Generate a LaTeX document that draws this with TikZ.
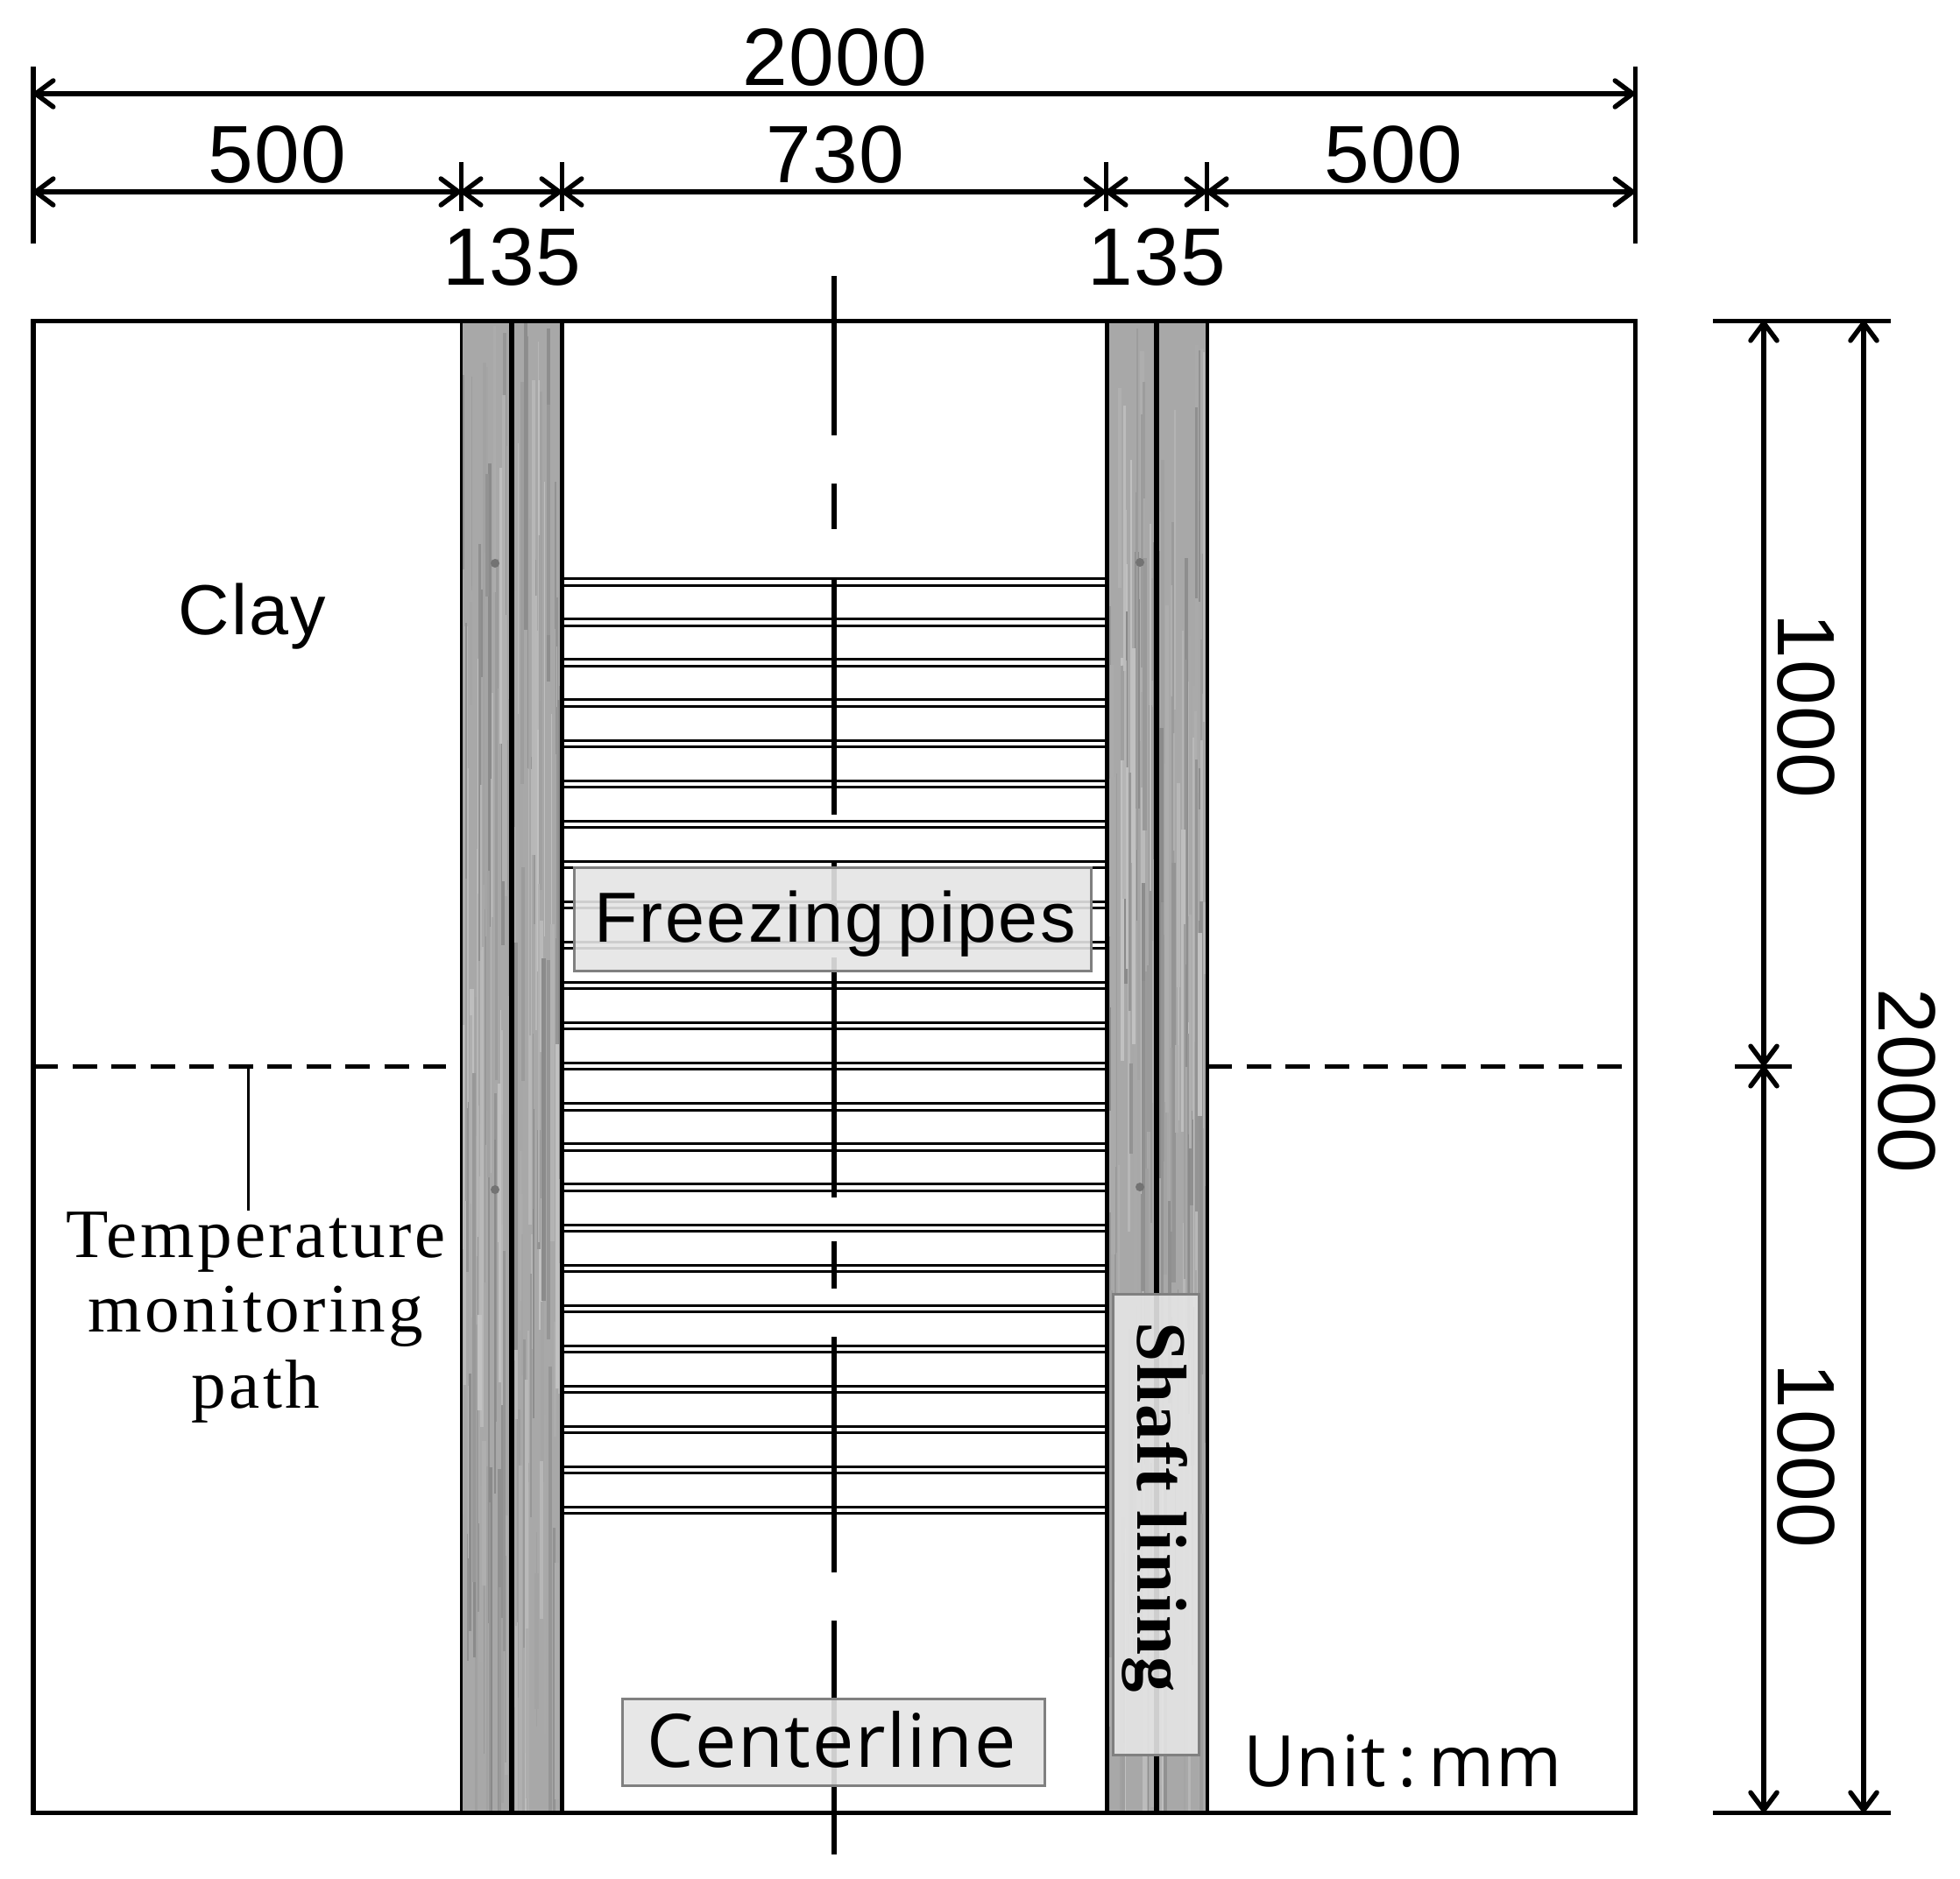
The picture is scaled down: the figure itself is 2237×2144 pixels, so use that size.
\documentclass[tikz,border=0pt]{standalone}
\usepackage{fontspec}
\setmainfont{Liberation Sans}
\newfontfamily\numfont[LetterSpace=1.5]{Liberation Sans}
\newfontfamily\serifpath[LetterSpace=4.4]{Liberation Serif}
\newfontfamily\seriflining[LetterSpace=2.5]{Liberation Serif}
\newfontfamily\sanstag[LetterSpace=3]{Liberation Sans}
\newfontfamily\opentag[LetterSpace=2]{Open Sans}
\usetikzlibrary{arrows.meta}
\tikzset{
  >={Straight Barb[length=.2cm,width=.3cm,round=false]},
  x=.01cm,
  y=-.01cm,
}
\tikzstyle{frame}=[line width=.05cm]
\tikzstyle{dimen}=[line width=.055cm,<->]
\tikzstyle{tick}=[line width=.05cm]
\tikzstyle{pipe}=[line width=.03cm]
\tikzstyle{axis}=[line width=.055cm]
\tikzstyle{path}=[line width=.05cm,dash pattern=on .28cm off .165cm]
\tikzstyle{tag}=[line width=.03cm,draw=black!50,fill=black!10,fill opacity=.9]
\tikzstyle{num}=[font=\numfont\fontsize{26.4pt}{26.4pt}\selectfont,inner sep=0pt]
\newcommand{\liningstrip}[2]{
  \begin{scope}
    \clip (#1,366) rectangle (#2,2069);
    \fill[black!34] (#1,366) rectangle (#2,2069);
    \foreach \s in {1,...,90}{
      \pgfmathsetmacro{\sx}{#1+rnd*(#2-#1)}
      \pgfmathsetmacro{\sy}{366+rnd*1500}
      \pgfmathsetmacro{\sl}{100+rnd*500}
      \pgfmathsetmacro{\sw}{1+rnd*4}
      \pgfmathsetmacro{\st}{24+rnd*22}
      \fill[black!\st] (\sx,\sy) rectangle (\sx+\sw,\sy+\sl);
    }
  \end{scope}
}

\begin{document}
\begin{tikzpicture}
    \useasboundingbox (0,0) rectangle (2237,2144);
    \pgfmathsetseed{4021}
    \fill[white] (0,0) rectangle (2237,2144);
    \liningstrip{526}{584}
    \liningstrip{584}{641}
    \liningstrip{1263}{1320}
    \liningstrip{1320}{1378}
    \foreach \kx/\ky in {565/643,565/1358,1301/642,1301/1355}
      \fill[black!55] (\kx,\ky) ellipse (5 and 5);
    \foreach \p in {0,...,23}{
      \draw[pipe] (641,660.7+46.08*\p)--(1263,660.7+46.08*\p);
      \draw[pipe] (641,668+46.08*\p)--(1263,668+46.08*\p);
    }
    \foreach \ya/\yb in {315/497,552/604,659/930,983/1038,1093/1367,1417/1471,1526/1795,1850/2117}
      \draw[axis] (952,\ya)--(952,\yb);
    \draw[frame] (38,366) rectangle (1866,2069);
    \draw[frame,line width=.03cm] (526,366)--(526,2069);
    \draw[frame] (641,366)--(641,2069);
    \draw[frame] (1263,366)--(1263,2069);
    \draw[frame,line width=.035cm] (1378,366)--(1378,2069);
    \draw[frame,line width=.055cm] (584,366)--(584,2069);
    \draw[frame,line width=.055cm] (1320,366)--(1320,2069);

    \coordinate (topL) at (38,107);
    \coordinate (topR) at (1866,107);
    \coordinate (midA) at (38,219);
    \coordinate (midB) at (526,219);
    \coordinate (midC) at (641,219);
    \coordinate (midD) at (1262,219);
    \coordinate (midE) at (1377,219);
    \coordinate (midF) at (1866,219);
    \draw[dimen] (topL)--(topR);
    \draw[dimen] (midA)--(midB);
    \draw[dimen] (midB)--(midC);
    \draw[dimen] (midC)--(midD);
    \draw[dimen] (midD)--(midE);
    \draw[dimen] (midE)--(midF);
    \draw[tick] (38,76)--(38,278);
    \draw[tick] (1866,76)--(1866,278);
    \foreach \tx in {526,641,1262,1377}
      \draw[tick] (\tx,185)--(\tx,241);
    \node[num] (lenAll) at (953,66) {2000};
    \node[num] (lenClayL) at (316,177) {500};
    \node[num] (lenInner) at (953,177) {730};
    \node[num] (lenClayR) at (1590,177) {500};
    \node[num] (lenWallL) at (584,294) {135};
    \node[num] (lenWallR) at (1320,294) {135};

    \coordinate (sideA) at (2013,366);
    \coordinate (sideB) at (2013,1217);
    \coordinate (sideC) at (2013,2069);
    \coordinate (farA) at (2127,366);
    \coordinate (farB) at (2127,2069);
    \draw[dimen] (sideA)--(sideB);
    \draw[dimen] (sideB)--(sideC);
    \draw[dimen] (farA)--(farB);
    \draw[tick] (1955,366)--(2158,366);
    \draw[tick] (1955,2069)--(2158,2069);
    \draw[tick] (1980,1217)--(2045,1217);
    \node[num,rotate=-90] (heightUp) at (2061,806) {1000};
    \node[num,rotate=-90] (heightDown) at (2061,1662) {1000};
    \node[num,rotate=-90] (heightAll) at (2176,1234) {2000};

    \coordinate (pathL) at (38,1217);
    \coordinate (pathM) at (509,1217);
    \coordinate (pathN) at (1378,1217);
    \coordinate (pathR) at (1856,1217);
    \draw[path] (pathL)--(pathM);
    \draw[path] (pathN)--(pathR);
    \coordinate (leadA) at (283.5,1217);
    \coordinate (leadB) at (283.5,1382);
    \draw[line width=.025cm] (leadA)--(leadB);

    \fill[tag] (655,990) rectangle (1245,1108);
    \draw[tag,fill=none] (655,990) rectangle (1245,1108);
    \fill[tag] (710,1939) rectangle (1192,2038);
    \draw[tag,fill=none] (710,1939) rectangle (1192,2038);
    \fill[tag] (1270,1477) rectangle (1368,2003);
    \draw[tag,fill=none] (1270,1477) rectangle (1368,2003);

    \node[inner sep=0pt,anchor=base] (clay) at (288,724) {\sanstag\fontsize{23pt}{23pt}\selectfont Clay};
    \node[inner sep=0pt,anchor=base] (pipes) at (953,1075) {\sanstag\fontsize{23pt}{23pt}\selectfont Freezing\hspace{-.1cm} pipes};
    \node[inner sep=0pt,anchor=base] (center) at (949,2017) {\opentag\fontsize{24pt}{24pt}\selectfont Centerline};
    \node[inner sep=0pt,anchor=base] (unit) at (1601,2039) {\opentag\fontsize{23pt}{23pt}\selectfont Unit\,:\,mm};
    \node[inner sep=0pt,anchor=base,rotate=-90] (lining) at (1298,1721) {\seriflining\bfseries\fontsize{23pt}{23pt}\selectfont Shaft lining};
    \node[inner sep=0pt,anchor=base] (pathA) at (292,1435) {\serifpath\fontsize{22.5pt}{22.5pt}\selectfont Temperature};
    \node[inner sep=0pt,anchor=base] (pathB) at (292,1520) {\serifpath\fontsize{22.5pt}{22.5pt}\selectfont monitoring};
    \node[inner sep=0pt,anchor=base] (pathC) at (292,1607) {\serifpath\fontsize{22.5pt}{22.5pt}\selectfont path};
  \end{tikzpicture}
\end{document}
